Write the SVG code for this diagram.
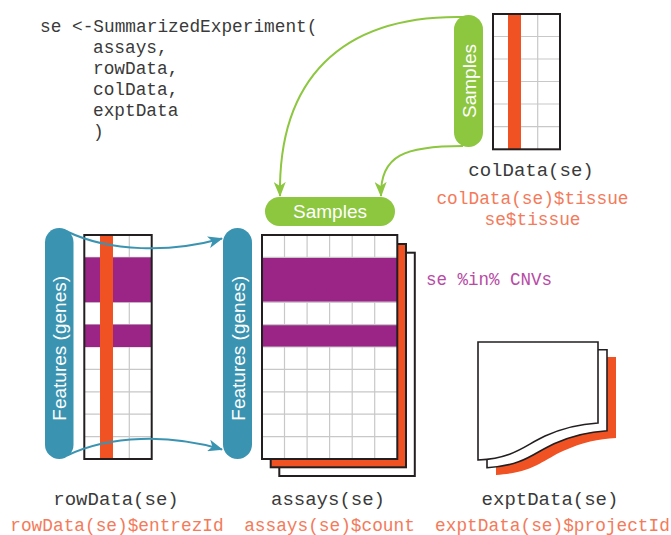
<svg xmlns="http://www.w3.org/2000/svg" width="671" height="535" viewBox="0 0 671 535">
<style>
.code{font-family:"Liberation Mono","DejaVu Sans Mono",monospace;font-size:17.8px;fill:#3a3a3a}
.lbl{font-family:"Liberation Mono","DejaVu Sans Mono",monospace;font-size:19px;fill:#3a3a3a;text-anchor:middle}
.acc{font-family:"Liberation Mono","DejaVu Sans Mono",monospace;font-size:17.8px;fill:#F47A5A;text-anchor:middle}
.pilltxt{font-family:"Liberation Sans",Arial,sans-serif;font-size:19px;fill:#ffffff;text-anchor:middle}
.grid{stroke:#C8C8C8;stroke-width:1.2;fill:none}
.frame{fill:none;stroke:#231F20;stroke-width:2}
.orange{fill:#F05223}
.purple{fill:#9B2487}
.teal{fill:#3A94B1}
.green{fill:#8DC63F}
.tealline{fill:none;stroke:#3A94B1;stroke-width:2}
.greenline{fill:none;stroke:#8DC63F;stroke-width:2}
</style>
<defs>
<marker id="ahTeal" markerUnits="userSpaceOnUse" markerWidth="15" markerHeight="12" refX="14" refY="6" orient="auto">
<path d="M0,0 L15,6 L0,12 L4,6 Z" fill="#3A94B1"/>
</marker>
<marker id="ahGreen" markerUnits="userSpaceOnUse" markerWidth="15" markerHeight="12" refX="14" refY="6" orient="auto">
<path d="M0,0 L15,6 L0,12 L4,6 Z" fill="#8DC63F"/>
</marker>
</defs>
<rect width="671" height="535" fill="#ffffff"/>

<g id="code">
<text class="code" x="40" y="32">se &lt;-SummarizedExperiment(</text>
<text class="code" x="93" y="53">assays,</text>
<text class="code" x="93" y="74">rowData,</text>
<text class="code" x="93" y="95">colData,</text>
<text class="code" x="93" y="116">exptData</text>
<text class="code" x="93" y="137">)</text>
</g>

<g id="colData">
<rect x="493" y="14" width="67" height="135.3" fill="#ffffff"/>
<path class="grid" d="M493,36.5H560M493,59H560M493,81.5H560M493,104H560M493,126.6H560M537.7,14V149.3"/>
<rect class="orange" x="508" y="14" width="13" height="135.3"/>
<rect class="frame" x="493" y="14" width="67" height="135.3"/>
<text class="lbl" x="531" y="176">colData(se)</text>
<text class="acc" x="532.5" y="203.5">colData(se)$tissue</text>
<text class="acc" x="532.5" y="225">se$tissue</text>
</g>

<g id="samples-col">
<rect class="green" x="454" y="15" width="29" height="132" rx="14.5"/>
<text class="pilltxt" transform="translate(475.5,81) rotate(-90)">Samples</text>
</g>

<g id="samples-assay">
<rect class="green" x="265" y="197" width="130" height="29" rx="14.5"/>
<text class="pilltxt" x="330" y="218">Samples</text>
</g>

<g id="rowData">
<rect x="84.3" y="235" width="67.4" height="224" fill="#ffffff"/>
<path class="grid" d="M84.3,257.4H151.7M84.3,279.8H151.7M84.3,302.2H151.7M84.3,324.6H151.7M84.3,347H151.7M84.3,369.4H151.7M84.3,391.8H151.7M84.3,414.2H151.7M84.3,436.6H151.7M106.8,235V459M129.3,235V459"/>
<rect class="purple" x="84.3" y="257.4" width="67.4" height="44.8"/>
<rect class="purple" x="84.3" y="324.6" width="67.4" height="22.4"/>
<rect class="orange" x="100" y="235" width="13" height="224"/>
<rect class="frame" x="84.3" y="235" width="67.4" height="224"/>
<text class="lbl" x="116" y="505">rowData(se)</text>
<text class="acc" x="117" y="531">rowData(se)$entrezId</text>
</g>

<g id="features-row">
<rect class="teal" x="45" y="228" width="28.5" height="231" rx="14.25"/>
<text class="pilltxt" transform="translate(66,348.3) rotate(-90)">Features (genes)</text>
</g>

<g id="features-assay">
<rect class="teal" x="223" y="228" width="29" height="231" rx="14.5"/>
<text class="pilltxt" transform="translate(244.5,348.3) rotate(-90)">Features (genes)</text>
</g>

<g id="assays">
<rect x="279.3" y="252.7" width="135.5" height="223.3" fill="#ffffff" stroke="#231F20" stroke-width="2"/>
<rect x="270.7" y="244" width="135.3" height="223.3" fill="#F05223" stroke="#231F20" stroke-width="2"/>
<rect x="262" y="235" width="135.3" height="224" fill="#ffffff"/>
<rect class="purple" x="262" y="257.4" width="135.3" height="44.8"/>
<rect class="purple" x="262" y="324.6" width="135.3" height="22.4"/>
<path class="grid" d="M262,257.4H397.3M262,302.2H397.3M262,324.6H397.3M262,347H397.3M262,369.4H397.3M262,391.8H397.3M262,414.2H397.3M262,436.6H397.3M284.5,235V257.4M307.1,235V257.4M329.6,235V257.4M352.2,235V257.4M374.7,235V257.4M284.5,302.2V324.6M307.1,302.2V324.6M329.6,302.2V324.6M352.2,302.2V324.6M374.7,302.2V324.6M284.5,347V459M307.1,347V459M329.6,347V459M352.2,347V459M374.7,347V459"/>
<rect class="frame" x="262" y="235" width="135.3" height="224"/>
<text class="lbl" x="328" y="505">assays(se)</text>
<text class="acc" x="329.5" y="531">assays(se)$count</text>
<text x="426" y="285" style="font-family:'Liberation Mono','DejaVu Sans Mono',monospace;font-size:17.5px;fill:#B84AA6">se %in% CNVs</text>
</g>

<g id="exptData">
<path transform="translate(18,15)" d="M478,342H598V423C580,424 565,427 545,436C525,445 515,458 478,460Z" fill="#F05223"/>
<path transform="translate(9,7.7)" d="M478,342H598V423C580,424 565,427 545,436C525,445 515,458 478,460Z" fill="#ffffff" stroke="#231F20" stroke-width="1.6"/>
<path d="M478,342H598V423C580,424 565,427 545,436C525,445 515,458 478,460Z" fill="#ffffff" stroke="#231F20" stroke-width="1.6"/>
<text class="lbl" x="550" y="505">exptData(se)</text>
<text class="acc" x="552.5" y="531">exptData(se)$projectId</text>
</g>

<g id="connectors">
<path class="tealline" d="M67,231.5C110,252 170,253 222,238.5" marker-end="url(#ahTeal)"/>
<path class="tealline" d="M67,455.5C110,435 170,434 222,449.5" marker-end="url(#ahTeal)"/>
<path class="greenline" d="M463,17C340,15 278,80 280,196" marker-end="url(#ahGreen)"/>
<path class="greenline" d="M463,146C405,146 380,155 381,196" marker-end="url(#ahGreen)"/>
</g>
</svg>
